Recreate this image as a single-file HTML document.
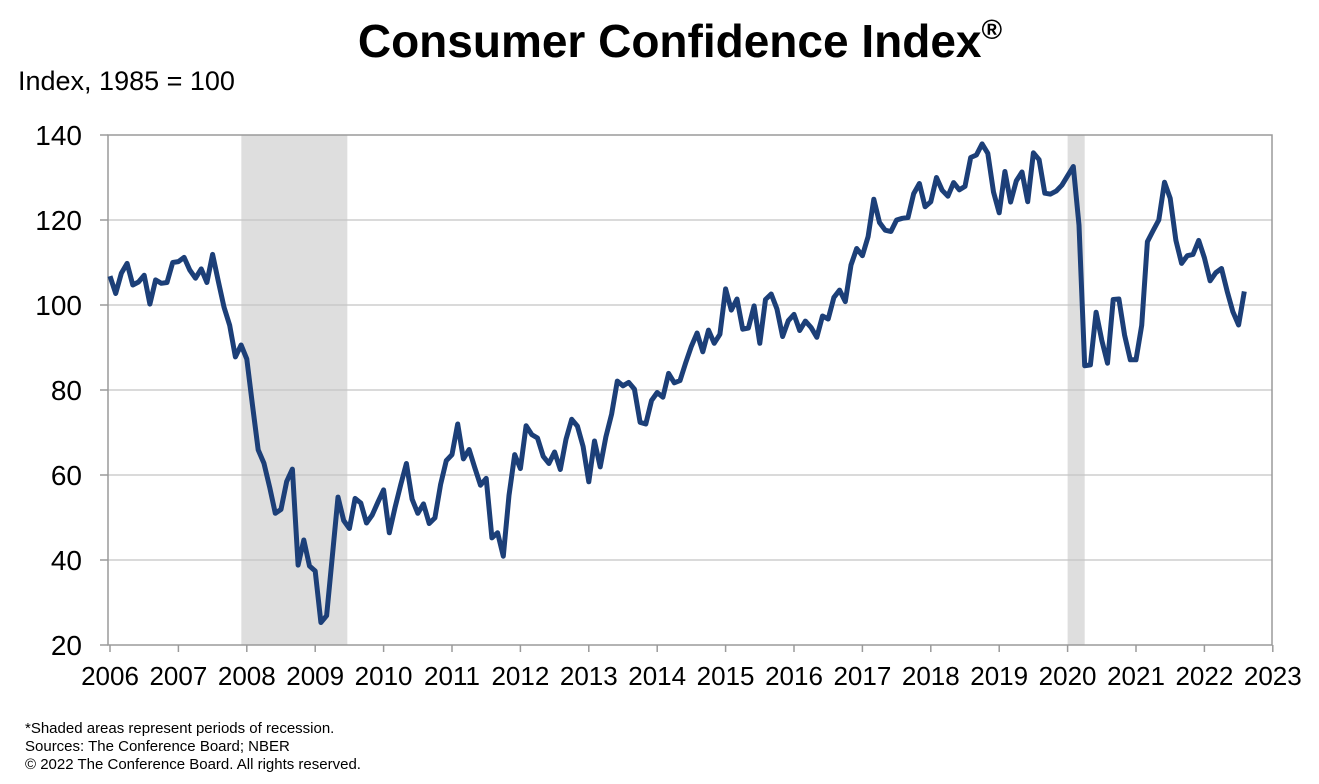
<!DOCTYPE html>
<html><head><meta charset="utf-8"><style>
body{margin:0;background:#fff;width:1319px;height:779px;overflow:hidden;font-family:"Liberation Sans",Arial,sans-serif}
</style></head><body>
<svg id="chart" width="1319" height="779" xmlns="http://www.w3.org/2000/svg" font-family="Liberation Sans, Arial, sans-serif">
<text x="680" y="57" text-anchor="middle" font-size="46" font-weight="bold">Consumer Confidence Index<tspan font-size="28" dy="-18">®</tspan></text>
<text x="18" y="90" font-size="27">Index, 1985 = 100</text>
<g id="shades"></g><g id="grid"></g>
<rect x="108" y="135" width="1164" height="510" fill="none" stroke="#9a9a9a" stroke-width="1.5"/>
<g id="ticks"></g>
<polyline id="line" fill="none" stroke="#1c3f78" stroke-width="5" stroke-linejoin="round"/>
<text x="25" y="733" font-size="15">*Shaded areas represent periods of recession.</text>
<text x="25" y="751" font-size="15">Sources: The Conference Board; NBER</text>
<text x="25" y="769" font-size="15">© 2022 The Conference Board. All rights reserved.</text>
</svg>
<script>
const startYear=2006;
const yTicks=[20,40,60,80,100,120,140];
const xTickYears=[2006,2007,2008,2009,2010,2011,2012,2013,2014,2015,2016,2017,2018,2019,2020,2021,2022,2023];
const recessionStarts=[2007.92,2020.0];
const recessionEnds=[2009.47,2020.25];
const cci=[
106.8,102.7,107.5,109.8,104.7,105.4,107.0,100.2,105.9,105.1,105.3,110.0,
110.2,111.2,108.2,106.3,108.5,105.3,111.9,105.6,99.5,95.2,87.8,90.6,
87.3,76.4,65.9,62.8,57.2,51.0,51.9,58.5,61.4,38.8,44.7,38.6,
37.4,25.3,26.9,40.8,54.8,49.3,47.4,54.5,53.4,48.7,50.6,53.6,
56.5,46.4,52.3,57.7,62.7,54.3,51.0,53.2,48.6,49.9,57.8,63.4,
64.8,72.0,63.8,66.0,61.7,57.6,59.2,45.2,46.4,40.9,55.2,64.8,
61.5,71.6,69.5,68.7,64.4,62.7,65.4,61.3,68.4,73.1,71.5,66.7,
58.4,68.0,61.9,69.0,74.3,82.1,81.0,81.8,80.2,72.4,72.0,77.5,
79.4,78.3,83.9,81.7,82.2,86.4,90.3,93.4,89.0,94.1,91.0,93.1,
103.8,98.8,101.4,94.3,94.6,99.8,91.0,101.3,102.6,99.1,92.6,96.3,
97.8,94.0,96.2,94.7,92.4,97.4,96.7,101.8,103.5,100.8,109.4,113.3,
111.6,116.1,124.9,119.4,117.6,117.3,120.0,120.4,120.6,126.2,128.6,123.1,
124.3,130.0,127.0,125.6,128.8,127.1,127.9,134.7,135.3,137.9,135.7,126.6,
121.7,131.4,124.2,129.2,131.3,124.3,135.8,134.2,126.3,126.1,126.8,128.2,
130.4,132.6,118.8,85.7,85.9,98.3,91.7,86.3,101.3,101.4,92.9,87.1,
87.1,95.2,114.9,117.5,120.0,128.9,125.1,115.2,109.8,111.6,111.9,115.2,
111.1,105.7,107.6,108.6,103.2,98.4,95.3,103.2];
const NS='http://www.w3.org/2000/svg';
const X=t=>110+(t-2006)*68.4;
const Y=v=>645-(v-20)*4.25;
function mk(tag,attrs,parent){const e=document.createElementNS(NS,tag);for(const k in attrs)e.setAttribute(k,attrs[k]);document.getElementById(parent).appendChild(e);return e;}
recessionStarts.forEach((s,i)=>{
 const r=mk('rect',{x:X(s),y:135,width:X(recessionEnds[i])-X(s),height:510,fill:'#dedede'},'shades');
 
 
});
yTicks.forEach(v=>{
 if(v>20&&v<140){const l=mk('line',{x1:108,x2:1272,y1:Y(v),y2:Y(v),stroke:'#c4c4c4','stroke-width':1.2},'grid');
 
 }
 const tk=mk('line',{x1:100,x2:108,y1:Y(v),y2:Y(v),stroke:'#9a9a9a','stroke-width':1.5},'ticks');
 
 
 const t=mk('text',{x:82,y:Y(v)+10,'text-anchor':'end','font-size':28},'ticks');
 t.textContent=v;
 
 
});
xTickYears.forEach(yr=>{
 const l=mk('line',{x1:X(yr),x2:X(yr),y1:645,y2:652,stroke:'#9a9a9a','stroke-width':1.5},'ticks');
 
 
 const t=mk('text',{x:X(yr),y:685,'text-anchor':'middle','font-size':26},'ticks');
 t.textContent=yr;
 
 
});
document.getElementById('line').setAttribute('points',cci.map((v,i)=>X(startYear+i/12).toFixed(1)+','+Y(v).toFixed(1)).join(' '));
</script>
</body></html>
